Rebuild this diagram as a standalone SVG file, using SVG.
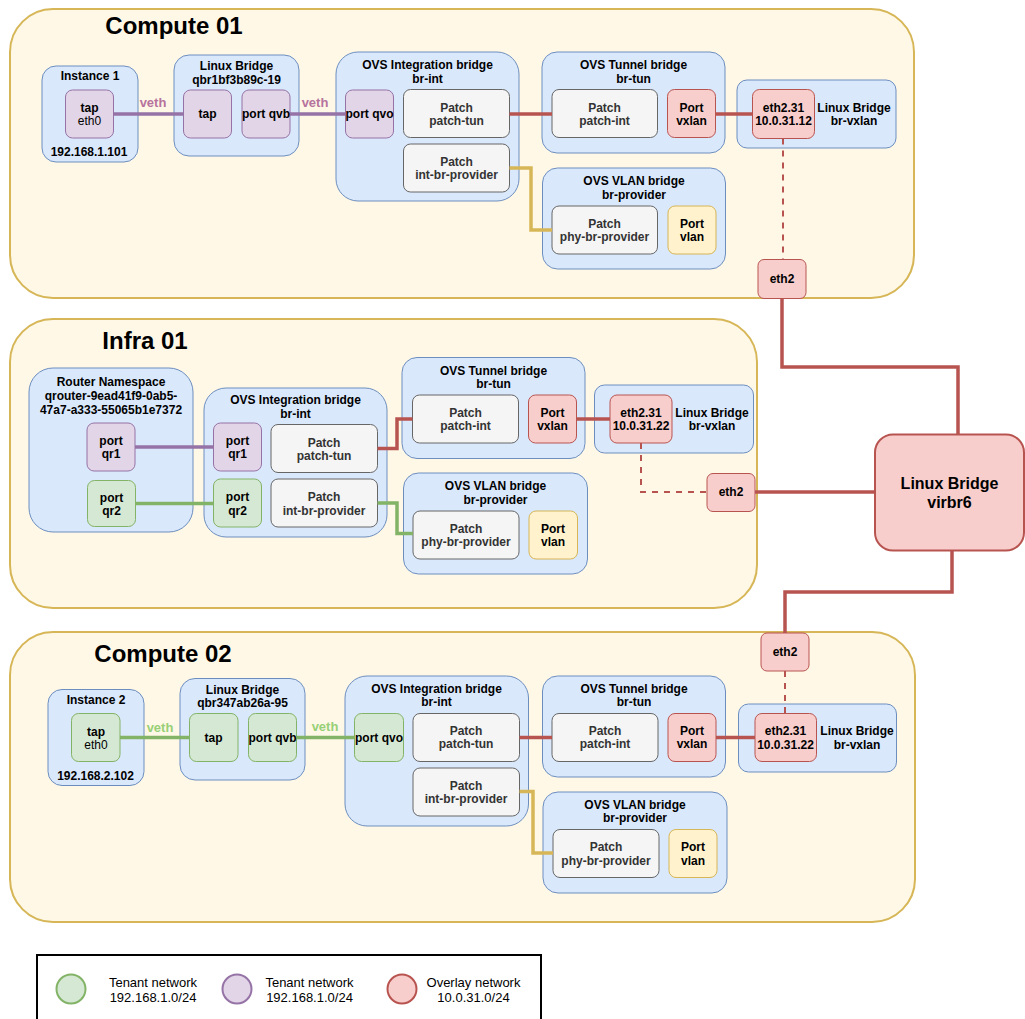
<svg xmlns="http://www.w3.org/2000/svg" width="1025" height="1019" viewBox="0 0 1025 1019">
  <style>
    text { font-family: "Liberation Sans", Arial, Helvetica, sans-serif; font-size: 12px; text-anchor: middle; dominant-baseline: central; fill: #000; }
    .b { font-weight: bold; }
    .title { font-size: 24px; font-weight: bold; }
    .gray { fill: #333333; font-weight: bold; }
    .host { fill: #fff8e6; stroke: #d6b656; stroke-width: 2; }
    .blue { fill: #dae8fc; stroke: #6c8ebf; stroke-width: 1; }
    .purple { fill: #e1d5e7; stroke: #9673a6; stroke-width: 1; }
    .green { fill: #d5e8d4; stroke: #82b366; stroke-width: 1; }
    .red { fill: #f8cecc; stroke: #b85450; stroke-width: 1; }
    .yellow { fill: #fff2cc; stroke: #d6b656; stroke-width: 1; }
    .patch { fill: #f5f5f5; stroke: #666666; stroke-width: 1; }
    .l { fill: none; stroke-width: 3.5; stroke-linejoin: miter; }
    .lp { stroke: #9673a6; }
    .lg { stroke: #82b366; }
    .lr { stroke: #b85450; }
    .ly { stroke: #d6b656; }
    .dash { fill: none; stroke: #b85450; stroke-width: 2; stroke-dasharray: 6 6; }
    .veth-p { fill: #b5739d; font-size: 13px; font-weight: bold; }
    .veth-g { fill: #97d077; font-size: 13px; font-weight: bold; }
    .legend { font-size: 13px; }
  </style>

  <rect width="1025" height="1019" fill="#ffffff"/>

  <!-- host containers -->
  <g id="compute01">
    <rect class="host" x="10" y="9" width="904" height="289" rx="43"/>
    <text class="title" x="174" y="25">Compute 01</text>
  </g>
  <g id="infra01">
    <rect class="host" x="10" y="319" width="747" height="289" rx="43"/>
    <text class="title" x="145" y="340">Infra 01</text>
  </g>
  <g id="compute02">
    <rect class="host" x="10" y="632" width="905" height="290" rx="43"/>
    <text class="title" x="163" y="653">Compute 02</text>
  </g>

  <!-- ===== Compute 01 nodes ===== -->
  <g id="c1-instance">
    <rect class="blue" x="42" y="66" width="96" height="96" rx="14"/>
    <text class="b" x="90" y="76">Instance 1</text>
    <text class="b" x="89" y="152">192.168.1.101</text>
  </g>
  <g id="c1-instance-tap">
    <rect class="purple" x="65.5" y="90" width="48" height="48" rx="7"/>
    <text class="b" x="89.5" y="108">tap</text>
    <text x="89.5" y="121">eth0</text>
  </g>
  <g id="c1-qbr">
    <rect class="blue" x="174" y="55" width="125" height="101" rx="15"/>
    <text class="b" x="236.5" y="66">Linux Bridge</text>
    <text class="b" x="236.5" y="80">qbr1bf3b89c-19</text>
  </g>
  <g id="c1-qbr-tap">
    <rect class="purple" x="183.5" y="90" width="48" height="48" rx="7"/>
    <text class="b" x="207.5" y="114">tap</text>
  </g>
  <g id="c1-qvb">
    <rect class="purple" x="242" y="90" width="48" height="48" rx="7"/>
    <text class="b" x="266" y="114">port qvb</text>
  </g>
  <g id="c1-br-int">
    <rect class="blue" x="336" y="52" width="183" height="149" rx="22"/>
    <text class="b" x="427.5" y="65">OVS Integration bridge</text>
    <text class="b" x="427.5" y="79">br-int</text>
  </g>
  <g id="c1-qvo">
    <rect class="purple" x="345.5" y="90" width="48" height="48" rx="7"/>
    <text class="b" x="369.5" y="114">port qvo</text>
  </g>
  <g id="c1-patch-tun">
    <rect class="patch" x="403.5" y="89.5" width="106" height="48" rx="7"/>
    <text class="gray" x="456.5" y="108">Patch</text>
    <text class="gray" x="456.5" y="121">patch-tun</text>
  </g>
  <g id="c1-int-br-provider">
    <rect class="patch" x="403.5" y="144" width="106" height="48" rx="7"/>
    <text class="gray" x="456.5" y="162">Patch</text>
    <text class="gray" x="456.5" y="175">int-br-provider</text>
  </g>
  <g id="c1-br-tun">
    <rect class="blue" x="542" y="52" width="183" height="101" rx="15"/>
    <text class="b" x="633.5" y="65">OVS Tunnel bridge</text>
    <text class="b" x="633.5" y="79">br-tun</text>
  </g>
  <g id="c1-patch-int">
    <rect class="patch" x="552" y="89.5" width="105.5" height="48" rx="7"/>
    <text class="gray" x="604.5" y="108">Patch</text>
    <text class="gray" x="604.5" y="121">patch-int</text>
  </g>
  <g id="c1-vxlan">
    <rect class="red" x="667.5" y="89.5" width="48" height="48" rx="7"/>
    <text class="b" x="691.5" y="108">Port</text>
    <text class="b" x="691.5" y="121">vxlan</text>
  </g>
  <g id="c1-br-vxlan">
    <rect class="blue" x="737" y="80" width="159" height="68" rx="10"/>
    <text class="b" x="854" y="108">Linux Bridge</text>
    <text class="b" x="854" y="121">br-vxlan</text>
  </g>
  <g id="c1-eth2-31">
    <rect class="red" x="752.5" y="89.5" width="62" height="49" rx="7"/>
    <text class="b" x="783.5" y="108">eth2.31</text>
    <text class="b" x="783.5" y="121">10.0.31.12</text>
  </g>
  <g id="c1-br-provider">
    <rect class="blue" x="542.5" y="168" width="183" height="101" rx="15"/>
    <text class="b" x="634" y="181">OVS VLAN bridge</text>
    <text class="b" x="634" y="195">br-provider</text>
  </g>
  <g id="c1-phy-br-provider">
    <rect class="patch" x="552" y="206" width="105.5" height="48" rx="7"/>
    <text class="gray" x="604.5" y="224">Patch</text>
    <text class="gray" x="604.5" y="237">phy-br-provider</text>
  </g>
  <g id="c1-vlan">
    <rect class="yellow" x="668" y="206" width="48" height="48" rx="7"/>
    <text class="b" x="692" y="224">Port</text>
    <text class="b" x="692" y="237">vlan</text>
  </g>
  <g id="c1-eth2">
    <rect class="red" x="758" y="259.5" width="48" height="39" rx="6"/>
    <text class="b" x="782" y="279">eth2</text>
  </g>

  <!-- ===== Infra 01 nodes ===== -->
  <g id="i1-router">
    <rect class="blue" x="29" y="368" width="164" height="164" rx="24"/>
    <text class="b" x="111" y="382">Router Namespace</text>
    <text class="b" x="111" y="396">qrouter-9ead41f9-0ab5-</text>
    <text class="b" x="111" y="410">47a7-a333-55065b1e7372</text>
  </g>
  <g id="i1-router-qr1">
    <rect class="purple" x="87" y="423" width="48" height="48" rx="7"/>
    <text class="b" x="111" y="441">port</text>
    <text class="b" x="111" y="454">qr1</text>
  </g>
  <g id="i1-router-qr2">
    <rect class="green" x="87.5" y="480.5" width="48" height="46" rx="7"/>
    <text class="b" x="111.5" y="497.5">port</text>
    <text class="b" x="111.5" y="511">qr2</text>
  </g>
  <g id="i1-br-int">
    <rect class="blue" x="204" y="388" width="183" height="149" rx="22"/>
    <text class="b" x="295.5" y="400">OVS Integration bridge</text>
    <text class="b" x="295.5" y="414">br-int</text>
  </g>
  <g id="i1-qr1">
    <rect class="purple" x="213.5" y="423" width="48" height="48" rx="7"/>
    <text class="b" x="237.5" y="441">port</text>
    <text class="b" x="237.5" y="454">qr1</text>
  </g>
  <g id="i1-qr2">
    <rect class="green" x="213.5" y="479" width="48" height="48" rx="7"/>
    <text class="b" x="237.5" y="497">port</text>
    <text class="b" x="237.5" y="511">qr2</text>
  </g>
  <g id="i1-patch-tun">
    <rect class="patch" x="271" y="424.5" width="106.5" height="48" rx="7"/>
    <text class="gray" x="324" y="443">Patch</text>
    <text class="gray" x="324" y="456">patch-tun</text>
  </g>
  <g id="i1-int-br-provider">
    <rect class="patch" x="271" y="479" width="106.5" height="48" rx="7"/>
    <text class="gray" x="324" y="497">Patch</text>
    <text class="gray" x="324" y="511">int-br-provider</text>
  </g>
  <g id="i1-br-tun">
    <rect class="blue" x="402" y="357.5" width="183" height="101" rx="15"/>
    <text class="b" x="493.5" y="371">OVS Tunnel bridge</text>
    <text class="b" x="493.5" y="384">br-tun</text>
  </g>
  <g id="i1-patch-int">
    <rect class="patch" x="412.5" y="395" width="106" height="48" rx="7"/>
    <text class="gray" x="465.5" y="413">Patch</text>
    <text class="gray" x="465.5" y="426">patch-int</text>
  </g>
  <g id="i1-vxlan">
    <rect class="red" x="528.5" y="395" width="48" height="48" rx="7"/>
    <text class="b" x="552.5" y="413">Port</text>
    <text class="b" x="552.5" y="426">vxlan</text>
  </g>
  <g id="i1-br-vxlan">
    <rect class="blue" x="594.5" y="385" width="159" height="68" rx="10"/>
    <text class="b" x="712" y="413">Linux Bridge</text>
    <text class="b" x="712" y="426">br-vxlan</text>
  </g>
  <g id="i1-eth2-31">
    <rect class="red" x="610" y="395" width="62" height="48" rx="7"/>
    <text class="b" x="641" y="413">eth2.31</text>
    <text class="b" x="641" y="426">10.0.31.22</text>
  </g>
  <g id="i1-br-provider">
    <rect class="blue" x="403.5" y="473" width="184" height="101" rx="15"/>
    <text class="b" x="495.5" y="486">OVS VLAN bridge</text>
    <text class="b" x="495.5" y="500">br-provider</text>
  </g>
  <g id="i1-phy-br-provider">
    <rect class="patch" x="413" y="511" width="106" height="48" rx="7"/>
    <text class="gray" x="466" y="529">Patch</text>
    <text class="gray" x="466" y="542">phy-br-provider</text>
  </g>
  <g id="i1-vlan">
    <rect class="yellow" x="529" y="511" width="48.5" height="48" rx="7"/>
    <text class="b" x="553" y="529">Port</text>
    <text class="b" x="553" y="542">vlan</text>
  </g>
  <g id="i1-eth2">
    <rect class="red" x="707" y="473.5" width="48" height="38" rx="6"/>
    <text class="b" x="731" y="492">eth2</text>
  </g>

  <!-- shared bridge -->
  <g id="virbr6">
    <rect fill="#f8cecc" stroke="#b85450" stroke-width="2" x="875" y="434.5" width="149" height="116" rx="18"/>
    <text class="b" style="font-size:16px" x="949.5" y="483">Linux Bridge</text>
    <text class="b" style="font-size:16px" x="949.5" y="502">virbr6</text>
  </g>

  <!-- ===== Compute 02 nodes ===== -->
  <g id="c2-instance">
    <rect class="blue" x="48" y="689.5" width="96" height="96" rx="14"/>
    <text class="b" x="96" y="699.5">Instance 2</text>
    <text class="b" x="95.5" y="775.5">192.168.2.102</text>
  </g>
  <g id="c2-instance-tap">
    <rect class="green" x="71.5" y="713.5" width="48.5" height="48" rx="7"/>
    <text class="b" x="96" y="731.5">tap</text>
    <text x="96" y="745">eth0</text>
  </g>
  <g id="c2-qbr">
    <rect class="blue" x="180" y="678.5" width="125" height="101.5" rx="15"/>
    <text class="b" x="242.5" y="690">Linux Bridge</text>
    <text class="b" x="242.5" y="703">qbr347ab26a-95</text>
  </g>
  <g id="c2-qbr-tap">
    <rect class="green" x="189.5" y="713.5" width="48.5" height="48" rx="7"/>
    <text class="b" x="213.5" y="738">tap</text>
  </g>
  <g id="c2-qvb">
    <rect class="green" x="248.5" y="713.5" width="48" height="48" rx="7"/>
    <text class="b" x="272.5" y="738">port qvb</text>
  </g>
  <g id="c2-br-int">
    <rect class="blue" x="345" y="676" width="183.5" height="150" rx="22"/>
    <text class="b" x="436.5" y="689">OVS Integration bridge</text>
    <text class="b" x="436.5" y="702">br-int</text>
  </g>
  <g id="c2-qvo">
    <rect class="green" x="354.5" y="713.5" width="49" height="48" rx="7"/>
    <text class="b" x="379" y="738">port qvo</text>
  </g>
  <g id="c2-patch-tun">
    <rect class="patch" x="413" y="713.5" width="106.5" height="48" rx="7"/>
    <text class="gray" x="466" y="730.5">Patch</text>
    <text class="gray" x="466" y="744">patch-tun</text>
  </g>
  <g id="c2-int-br-provider">
    <rect class="patch" x="413" y="768" width="106.5" height="48" rx="7"/>
    <text class="gray" x="466" y="785.5">Patch</text>
    <text class="gray" x="466" y="799">int-br-provider</text>
  </g>
  <g id="c2-br-tun">
    <rect class="blue" x="542.5" y="676" width="183" height="101" rx="15"/>
    <text class="b" x="634" y="689">OVS Tunnel bridge</text>
    <text class="b" x="634" y="702">br-tun</text>
  </g>
  <g id="c2-patch-int">
    <rect class="patch" x="552" y="713.5" width="106" height="48" rx="7"/>
    <text class="gray" x="605" y="730.5">Patch</text>
    <text class="gray" x="605" y="744">patch-int</text>
  </g>
  <g id="c2-vxlan">
    <rect class="red" x="668" y="713.5" width="48" height="48" rx="7"/>
    <text class="b" x="692" y="730.5">Port</text>
    <text class="b" x="692" y="744">vxlan</text>
  </g>
  <g id="c2-br-vxlan">
    <rect class="blue" x="738.5" y="704" width="158" height="68" rx="10"/>
    <text class="b" x="857" y="731">Linux Bridge</text>
    <text class="b" x="857" y="745">br-vxlan</text>
  </g>
  <g id="c2-eth2-31">
    <rect class="red" x="755" y="713.5" width="61.5" height="48" rx="7"/>
    <text class="b" x="785.5" y="731">eth2.31</text>
    <text class="b" x="785.5" y="745">10.0.31.22</text>
  </g>
  <g id="c2-br-provider">
    <rect class="blue" x="543" y="792" width="184" height="101" rx="15"/>
    <text class="b" x="635" y="804.5">OVS VLAN bridge</text>
    <text class="b" x="635" y="818">br-provider</text>
  </g>
  <g id="c2-phy-br-provider">
    <rect class="patch" x="553" y="829.5" width="106" height="48" rx="7"/>
    <text class="gray" x="606" y="847">Patch</text>
    <text class="gray" x="606" y="861">phy-br-provider</text>
  </g>
  <g id="c2-vlan">
    <rect class="yellow" x="669" y="829.5" width="48" height="48" rx="7"/>
    <text class="b" x="693" y="847">Port</text>
    <text class="b" x="693" y="861">vlan</text>
  </g>
  <g id="c2-eth2">
    <rect class="red" x="761" y="633" width="48" height="38" rx="6"/>
    <text class="b" x="785" y="652">eth2</text>
  </g>

  <!-- connectors, drawn over the bridge boxes so they cross their backgrounds -->
  <g id="connectors">
    <!-- compute 01 -->
    <path class="l lp" d="M113.5 114H183.5"/>
    <path class="l lp" d="M290 114H345.5"/>
    <path class="l lr" d="M509.5 114H552"/>
    <path class="l lr" d="M715.5 114H752.5"/>
    <path class="l ly" d="M509.5 168H531V230H552"/>
    <path class="dash" d="M783 138.5V259.5"/>
    <path class="l lr" d="M782 298.5V367H958V434.5"/>
    <!-- infra 01 -->
    <path class="l lp" d="M135 447H213.5"/>
    <path class="l lg" d="M135.5 503.5H213.5"/>
    <path class="l lr" d="M377.5 448.5H397V419H412.5"/>
    <path class="l lg" d="M377.5 503H397V533.5H413"/>
    <path class="l lr" d="M576.5 419H610"/>
    <path class="dash" d="M641 443V492H707"/>
    <path class="l lr" d="M755 492H875"/>
    <!-- compute 02 -->
    <path class="l lg" d="M120 737.5H189.5"/>
    <path class="l lg" d="M296.5 737.5H354.5"/>
    <path class="l lr" d="M519.5 737.5H552"/>
    <path class="l lr" d="M716 737.5H755"/>
    <path class="l ly" d="M519.5 791.5H533V853H553"/>
    <path class="dash" d="M785 671V713.5"/>
    <path class="l lr" d="M952 550.5V592H785V633"/>
    <!-- link labels -->
    <text class="veth-p" x="153" y="102">veth</text>
    <text class="veth-p" x="315" y="102">veth</text>
    <text class="veth-g" x="160" y="727">veth</text>
    <text class="veth-g" x="325" y="726">veth</text>
  </g>

  <!-- legend -->
  <g id="legend">
    <rect x="37" y="955" width="504" height="80" fill="#ffffff" stroke="#000000" stroke-width="2"/>
    <circle cx="71" cy="989" r="14.5" fill="#d5e8d4" stroke="#82b366" stroke-width="2"/>
    <text class="legend" x="153" y="982">Tenant network</text>
    <text class="legend" x="153" y="997.5">192.168.1.0/24</text>
    <circle cx="237" cy="989" r="14.5" fill="#e1d5e7" stroke="#9673a6" stroke-width="2"/>
    <text class="legend" x="309.5" y="982">Tenant network</text>
    <text class="legend" x="309.5" y="997.5">192.168.1.0/24</text>
    <circle cx="402" cy="989" r="14.5" fill="#f8cecc" stroke="#b85450" stroke-width="2"/>
    <text class="legend" x="473.5" y="982">Overlay network</text>
    <text class="legend" x="473.5" y="997.5">10.0.31.0/24</text>
  </g>
</svg>
